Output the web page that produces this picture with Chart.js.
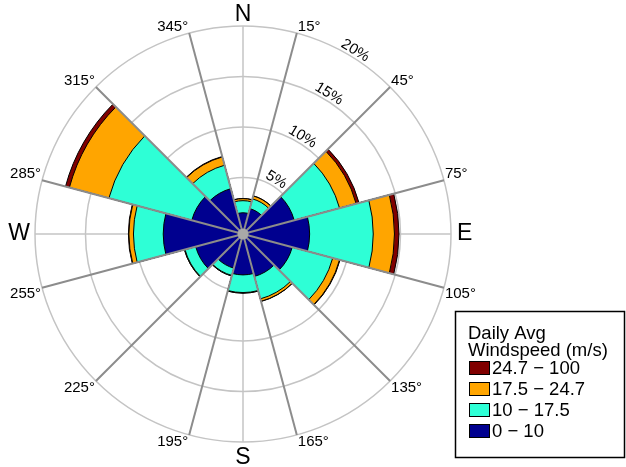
<!DOCTYPE html>
<html>
<head>
<meta charset="utf-8">
<script src="https://cdn.jsdelivr.net/npm/chart.js@4.4.1/dist/chart.umd.min.js"></script>
<style>
  html, body { margin: 0; padding: 0; background: #fff; }
</style>
</head>
<body>
<canvas id="windRose" width="626" height="467"></canvas>
<script>
// centre of each 30 degree direction bin
const directions = [0, 30, 60, 90, 120, 150, 180, 210, 240, 270, 300, 330];

// frequency (%) of each wind speed band, per direction bin
const speed0to10   = [1.5, 2.0, 4.65, 6.0, 4.45, 3.75, 3.45, 2.9, 4.25, 7.3, 4.65, 4.05];
const speed10to17  = [1.2, 1.0, 4.65, 6.3, 4.15, 2.3, 1.75, 0.75, 1.1, 2.95, 8.5, 2.4];
const speed17to25  = [0.2, 0.3, 1.7, 2.1, 0.7, 0.25, 0.05, 0.05, 0.05, 0.45, 4.05, 0.85];
const speed25to100 = [0.02, 0.02, 0.3, 0.45, 0.05, 0.02, 0.01, 0.01, 0.01, 0.05, 0.4, 0.05];

const bandLabels = ['0 \u2212 10', '10 \u2212 17.5', '17.5 \u2212 24.7', '24.7 \u2212 100'];
const bandColors = ['#00008f', '#2effd6', '#ffa500', '#800000'];

const radiusTicks = [5, 10, 15, 20];
const radiusLabels = ['5%', '10%', '15%', '20%'];
const angleLabels = ['345°', '15°', '45°', '75°', '105°', '135°', '165°', '195°', '225°', '255°', '285°', '315°'];
const compassLabels = ['N', 'E', 'S', 'W'];
const legendTitle = ['Daily Avg', 'Windspeed (m/s)'];

const FONT = '"Liberation Sans", Arial, sans-serif';

// polar area has no stacking, so draw cumulative totals with the smallest on top
const bands = [speed0to10, speed10to17, speed17to25, speed25to100];
let running = directions.map(() => 0);
const stacked = bands.map(band => {
    running = running.map((sum, i) => sum + band[i]);
    return running;
});

const roseDecor = {
    id: 'roseDecor',
    beforeDatasetsDraw(chart) {
        // light compass lines sit under the bars
        const r = chart.scales.r;
        const ctx = chart.ctx;
        ctx.save();
        ctx.strokeStyle = '#c4c4c4';
        ctx.lineWidth = 1.5;
        [0, 90, 180, 270].forEach(deg => {
            const a = (deg - 90) * Math.PI / 180;
            ctx.beginPath();
            ctx.moveTo(r.xCenter, r.yCenter);
            ctx.lineTo(r.xCenter + r.drawingArea * Math.cos(a), r.yCenter + r.drawingArea * Math.sin(a));
            ctx.stroke();
        });
        ctx.restore();
    },
    afterDatasetsDraw(chart) {
        const r = chart.scales.r;
        const ctx = chart.ctx;
        ctx.save();
        // sector edges drawn over the bars
        ctx.strokeStyle = '#8c8c8c';
        ctx.lineWidth = 2;
        directions.forEach((d, i) => {
            const p = r.getPointPosition(i, r.drawingArea);
            ctx.beginPath();
            ctx.moveTo(r.xCenter, r.yCenter);
            ctx.lineTo(p.x, p.y);
            ctx.stroke();
        });
        // centre dot
        ctx.fillStyle = '#a8a8a8';
        ctx.beginPath();
        ctx.arc(r.xCenter, r.yCenter, 5.5, 0, Math.PI * 2);
        ctx.fill();
        ctx.restore();
    },
    afterDraw(chart) {
        const r = chart.scales.r;
        const ctx = chart.ctx;
        ctx.save();
        ctx.fillStyle = '#000';

        // degree labels at the end of each sector edge
        ctx.font = '15px ' + FONT;
        angleLabels.forEach((txt, i) => {
            const p = r.getPointPosition(i, r.drawingArea);
            const dx = p.x - r.xCenter, dy = p.y - r.yCenter;
            ctx.textAlign = dx > 1 ? 'left' : (dx < -1 ? 'right' : 'center');
            ctx.textBaseline = dy < 0 ? 'bottom' : 'top';
            ctx.fillText(txt, p.x + (dx > 0 ? 1 : -1), p.y + (dy < 0 ? 1 : -1));
        });

        // compass letters
        ctx.font = '23px ' + FONT;
        ctx.textBaseline = 'middle';
        const R = r.drawingArea;
        ctx.textAlign = 'center';
        ctx.fillText(compassLabels[0], r.xCenter, r.yCenter - R - 11);
        ctx.fillText(compassLabels[2], r.xCenter, r.yCenter + R + 16);
        ctx.textAlign = 'left';
        ctx.fillText(compassLabels[1], r.xCenter + R + 6, r.yCenter);
        ctx.textAlign = 'right';
        ctx.fillText(compassLabels[3], r.xCenter - R - 5, r.yCenter);

        // percent labels along the 31.5 degree bearing
        ctx.font = '15px ' + FONT;
        ctx.textAlign = 'center';
        const bearing = 31.5 * Math.PI / 180;
        radiusTicks.forEach((v, i) => {
            const d = r.getDistanceFromCenterForValue(v) + 7;
            ctx.save();
            ctx.translate(r.xCenter + d * Math.sin(bearing), r.yCenter - d * Math.cos(bearing));
            ctx.rotate(bearing);
            ctx.fillText(radiusLabels[i], 0, 0);
            ctx.restore();
        });

        // legend box
        const lx = 455.5, ly = 311.5, lw = 169, lh = 146;
        ctx.strokeStyle = '#000';
        ctx.lineWidth = 1.5;
        ctx.strokeRect(lx, ly, lw, lh);
        ctx.font = '18.5px ' + FONT;
        ctx.textAlign = 'left';
        ctx.textBaseline = 'middle';
        legendTitle.forEach((t, i) => ctx.fillText(t, 468, 333.5 + i * 17.5));
        for (let k = bands.length - 1, row = 0; k >= 0; k--, row++) {
            const y = 368 + row * 21;
            ctx.fillStyle = bandColors[k];
            ctx.fillRect(469.5, y - 6.5, 20, 13);
            ctx.lineWidth = 1;
            ctx.strokeRect(469.5, y - 6.5, 20, 13);
            ctx.fillStyle = '#000';
            ctx.fillText(bandLabels[k], 492, y + 1);
        }
        ctx.restore();
    }
};

new Chart(document.getElementById('windRose'), {
    type: 'polarArea',
    data: {
        labels: directions.map(d => d + '°'),
        datasets: stacked.map((vals, k) => ({
            label: bandLabels[k],
            data: vals,
            backgroundColor: bandColors[k],
            borderColor: '#000',
            borderWidth: 1
        }))
    },
    options: {
        responsive: false,
        animation: false,
        layout: { padding: { left: 35, top: 26, right: 175, bottom: 25 } },
        plugins: {
            legend: { display: false },
            tooltip: { enabled: false }
        },
        scales: {
            r: {
                min: -0.6,
                max: 20,
                startAngle: -15,
                ticks: { display: false },
                afterBuildTicks: s => { s.ticks = radiusTicks.map(v => ({ value: v })); },
                grid: { color: '#c4c4c4', lineWidth: 1.5, circular: true },
                angleLines: { display: false },
                pointLabels: { display: false }
            }
        }
    },
    plugins: [roseDecor]
});
</script>
</body>
</html>
